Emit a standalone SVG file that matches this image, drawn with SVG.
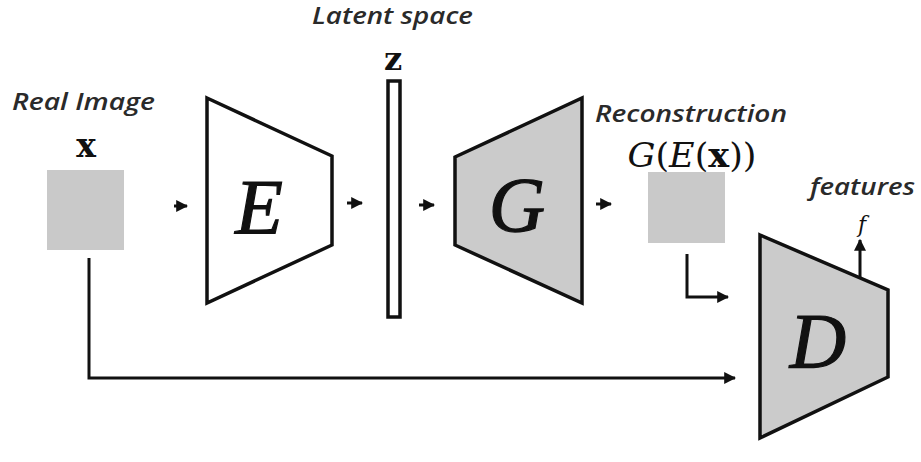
<svg xmlns="http://www.w3.org/2000/svg" width="921" height="462" viewBox="0 0 921 462">
<defs>
<marker id="ah" viewBox="0 0 10 10" refX="9" refY="5" markerWidth="4" markerHeight="4" markerUnits="strokeWidth" orient="auto">
<path d="M0,0 L10,5 L0,10 z" fill="#111"/>
</marker>
</defs>
<style>
.lbl{font-family:"Open Sans","Liberation Sans",sans-serif;font-style:italic;font-weight:600;fill:#2a2a2a;}
.math{font-family:"DejaVu Serif","Liberation Serif",serif;fill:#111;}
.big{font-family:"Liberation Serif","DejaVu Serif",serif;font-style:italic;font-size:78px;fill:#111;stroke:#111;stroke-width:1.2;text-anchor:middle;}
.blk{fill:#fff;stroke:#111;stroke-width:3.5;stroke-linejoin:miter;}
.gry{fill:#cbcbcb;stroke:#111;stroke-width:3.5;stroke-linejoin:miter;}
.img{fill:#c9c9c9;}
.con{fill:none;stroke:#111;stroke-width:3;}
</style>
<rect width="921" height="462" fill="#fff"/>
<g id="real-image">
<text class="lbl" x="12" y="110" font-size="24" textLength="143" lengthAdjust="spacingAndGlyphs">Real Image</text>
<text class="math" x="86" y="157" font-size="33" font-weight="bold" text-anchor="middle">x</text>
<rect class="img" x="47" y="170" width="77" height="80"/>
</g>
<g id="encoder">
<polygon class="blk" points="207,98 332,156 332,245 207,303"/>
<text class="big" x="259" y="233">E</text>
</g>
<g id="latent">
<text class="lbl" x="312" y="24" font-size="23" textLength="161" lengthAdjust="spacingAndGlyphs">Latent space</text>
<text class="math" x="393" y="70" font-size="32" font-weight="bold" text-anchor="middle">z</text>
<rect class="blk" x="388" y="81" width="12" height="236" stroke-width="3"/>
</g>
<g id="generator">
<polygon class="gry" points="455,157 582,98 582,303 455,245"/>
<text class="big" x="517" y="231">G</text>
</g>
<g id="reconstruction">
<text class="lbl" x="595" y="122" font-size="23" textLength="192" lengthAdjust="spacingAndGlyphs">Reconstruction</text>
<text class="math" x="692" y="167" font-size="33" text-anchor="middle" textLength="129" lengthAdjust="spacingAndGlyphs"><tspan font-style="italic">G</tspan>(<tspan font-style="italic">E</tspan>(<tspan font-weight="bold">x</tspan>))</text>
<rect class="img" x="648" y="172" width="77" height="71"/>
</g>
<g id="discriminator">
<polygon class="gry" points="760,235 888,290 888,377 760,438"/>
<text class="big" x="818" y="367">D</text>
<text class="lbl" x="810" y="195" font-size="23" textLength="105" lengthAdjust="spacingAndGlyphs">features</text>
<text class="math" x="862" y="232" font-size="22" font-style="italic" text-anchor="middle">f</text>
</g>
<g id="connectors">
<line class="con" x1="174" y1="206" x2="187" y2="206" marker-end="url(#ah)"/>
<line class="con" x1="347" y1="203" x2="362" y2="203" marker-end="url(#ah)"/>
<line class="con" x1="419" y1="205" x2="434" y2="205" marker-end="url(#ah)"/>
<line class="con" x1="596" y1="204" x2="611" y2="204" marker-end="url(#ah)"/>
<path class="con" d="M687,254 V297 H728" marker-end="url(#ah)"/>
<path class="con" d="M89,258 V378 H735" marker-end="url(#ah)"/>
<line class="con" x1="860" y1="278" x2="860" y2="240" marker-end="url(#ah)"/>
</g>
</svg>
